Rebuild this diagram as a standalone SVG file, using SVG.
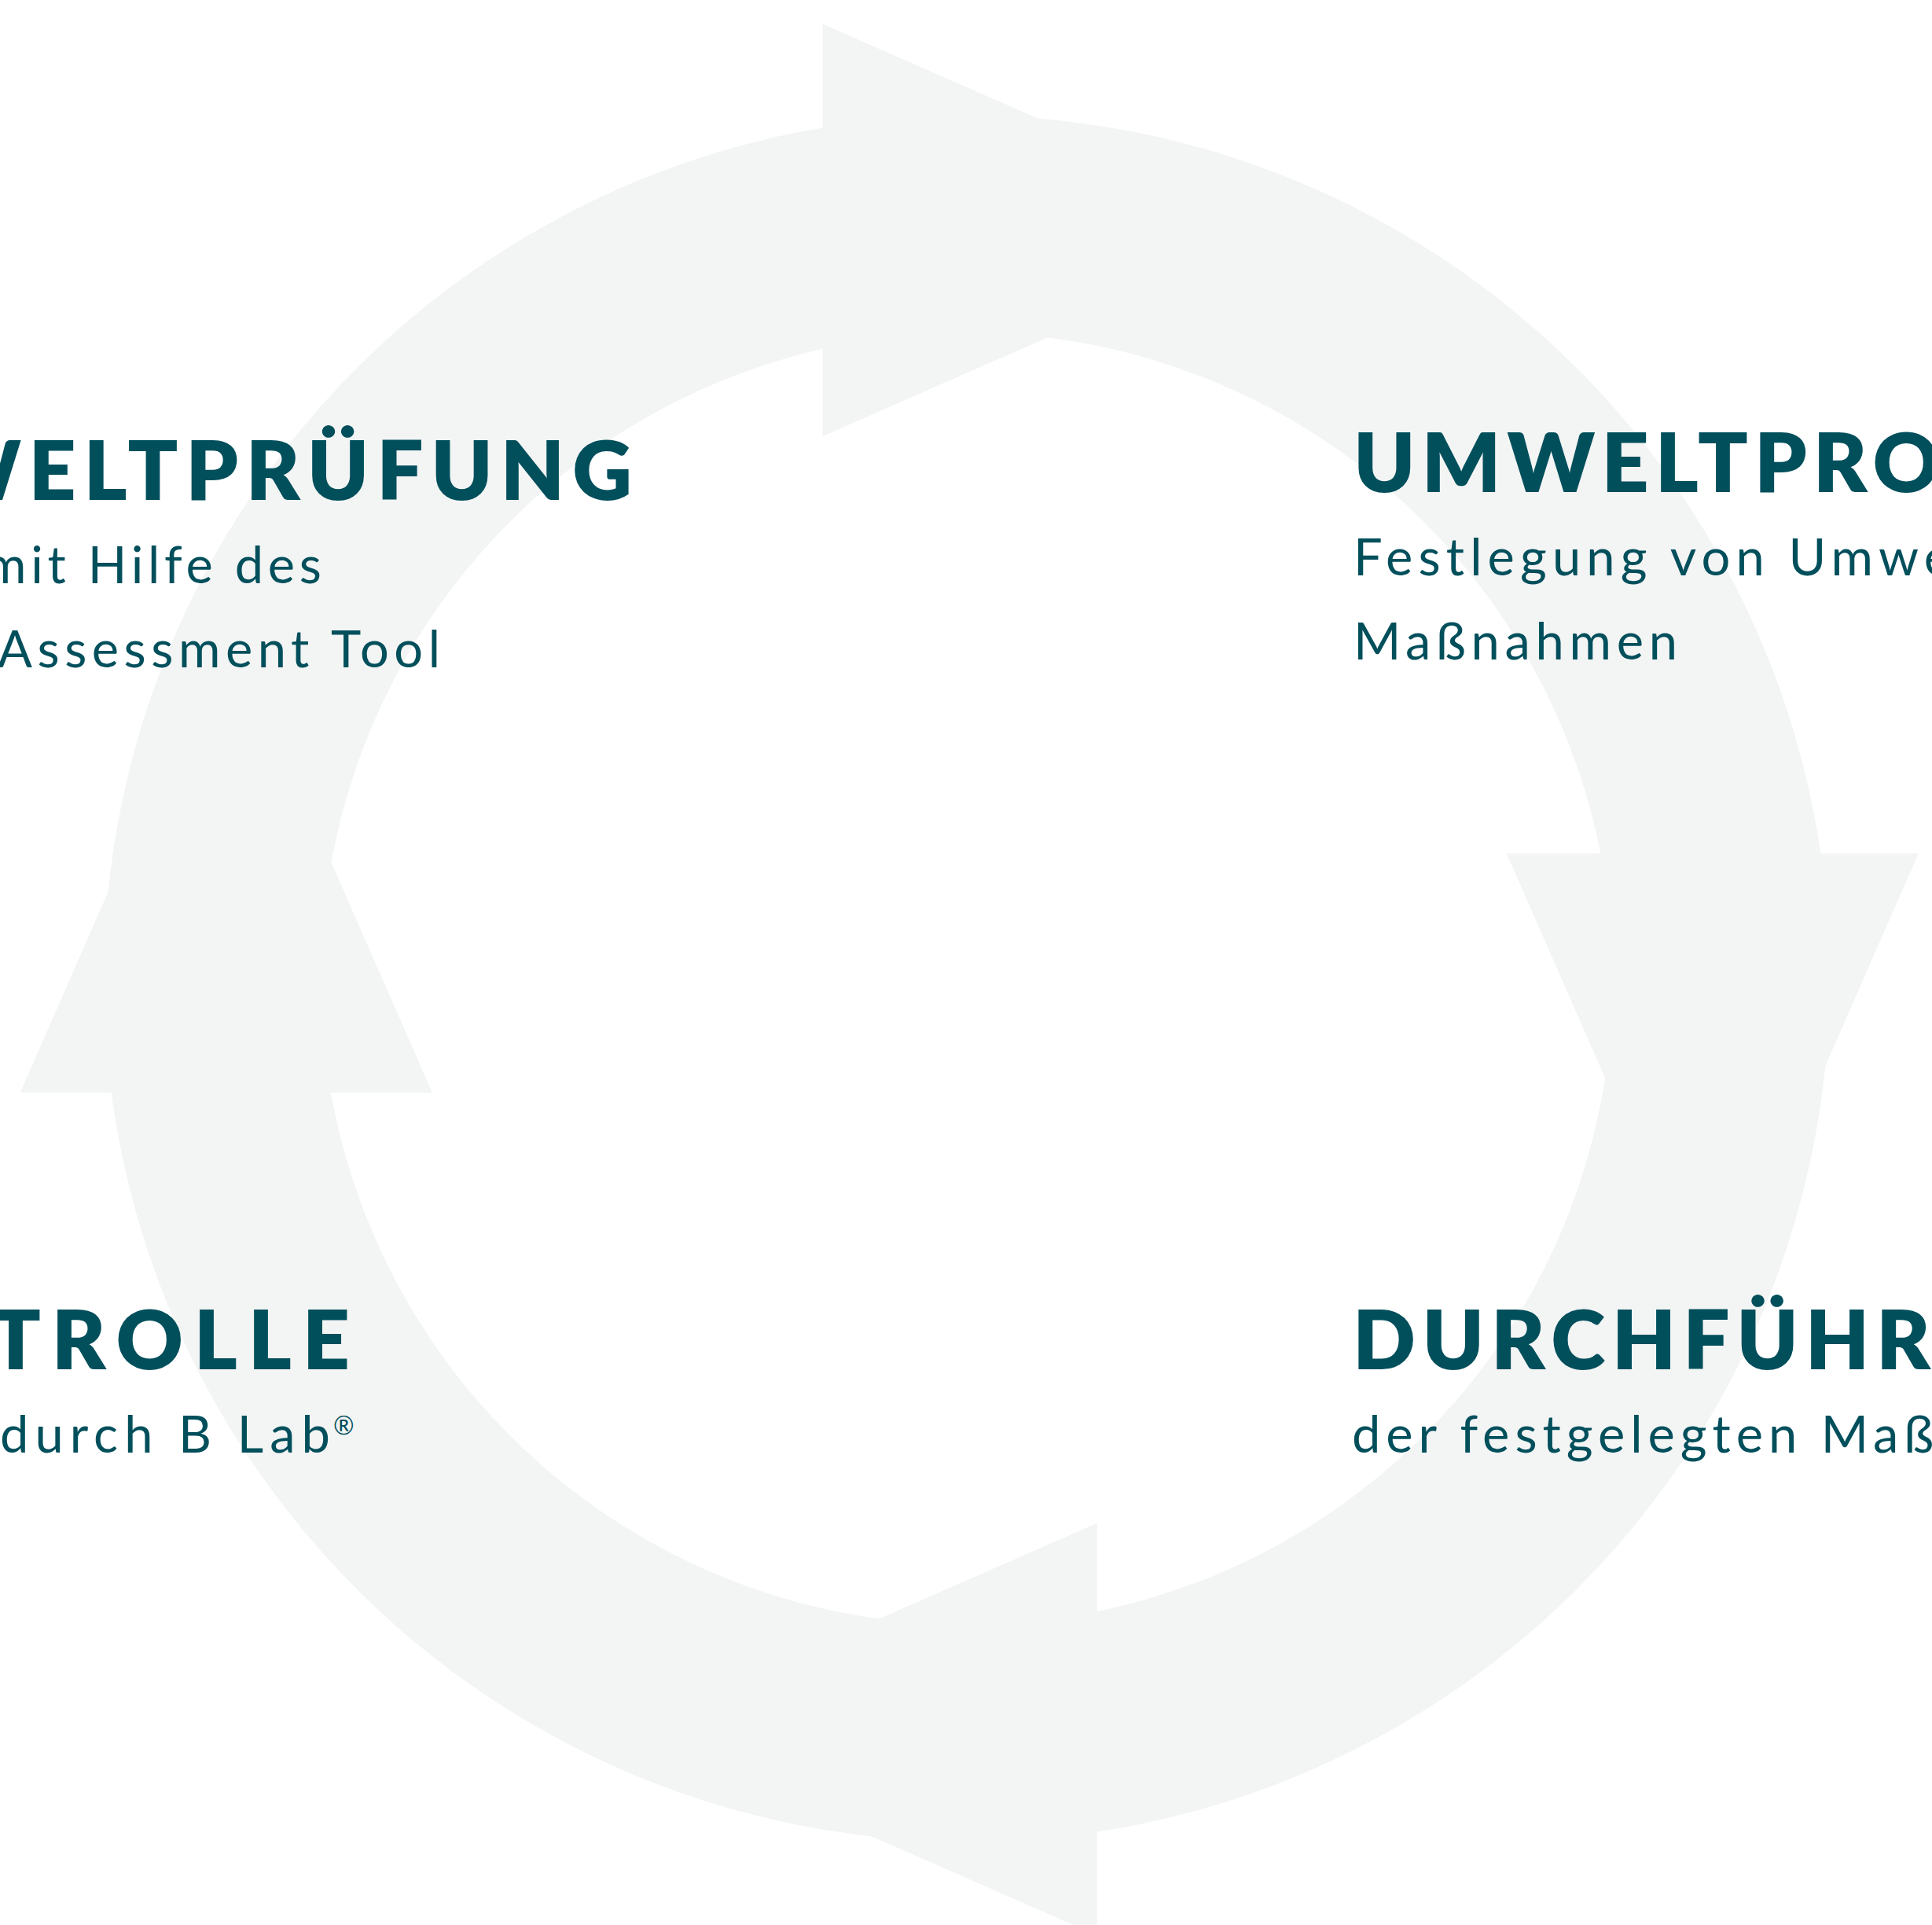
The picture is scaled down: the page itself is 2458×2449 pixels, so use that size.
<svg xmlns="http://www.w3.org/2000/svg" width="2458" height="2449" viewBox="0 0 2458 2449">
<style>
.shape{fill:#f3f4f4}
.t{font-family:Lato,"Liberation Sans",sans-serif;font-weight:800;font-size:105px;fill:#024f5c}
.s{font-family:Lato,"Liberation Sans",sans-serif;font-weight:400;font-size:65px;fill:#024f5c}
</style>
<rect width="2458" height="2449" fill="#ffffff"/>
<g id="connectors">
  <path id="ring" class="shape" fill-rule="evenodd" d="M2328,1245 A1098,1098 0 1 1 132,1245 A1098,1098 0 1 1 2328,1245 Z M2052,1245 A822,822 0 1 0 408,1245 A822,822 0 1 0 2052,1245 Z"/>
  <polygon id="arrow-top" class="shape" points="1046.7,30.6 1644.2,292.75 1046.7,554.9"/>
  <polygon id="arrow-right" class="shape" points="1916.7,1085.7 2440.9,1085.7 2178.8,1683.2"/>
  <polygon id="arrow-bottom" class="shape" points="1395.7,1937.8 1395.7,2462.1 798.2,2199.95"/>
  <polygon id="arrow-left" class="shape" points="25.6,1390 549.9,1390 287.75,792.5"/>
</g>
<g id="node-pruefung">
  <text class="t" x="-85" y="635.7" textLength="889" lengthAdjust="spacing">WELTPRÜFUNG</text>
  <text class="s" x="-20" y="741.7" textLength="429" lengthAdjust="spacing">mit Hilfe des</text>
  <text class="s" x="-3" y="849" textLength="563" lengthAdjust="spacing">Assessment Tool</text>
</g>
<g id="node-programm">
  <text class="t" x="1722" y="626" textLength="746" lengthAdjust="spacing">UMWELTPRO</text>
  <text class="s" x="1722" y="731.7" textLength="760" lengthAdjust="spacing">Festlegung von Umwe</text>
  <text class="s" x="1722" y="839" textLength="412" lengthAdjust="spacing">Maßnahmen</text>
</g>
<g id="node-kontrolle">
  <text class="t" x="-12" y="1741.7" textLength="457" lengthAdjust="spacing">TROLLE</text>
  <text class="s" y="1848.3"><tspan x="0" textLength="420" lengthAdjust="spacing">durch B Lab</tspan><tspan x="424" y="1825" font-size="32">®</tspan></text>
</g>
<g id="node-durchfuehrung">
  <text class="t" x="1721" y="1741.7" textLength="735" lengthAdjust="spacing">DURCHFÜHR</text>
  <text class="s" x="1720" y="1848.3" textLength="740" lengthAdjust="spacing">der festgelegten Maß</text>
</g>
</svg>
